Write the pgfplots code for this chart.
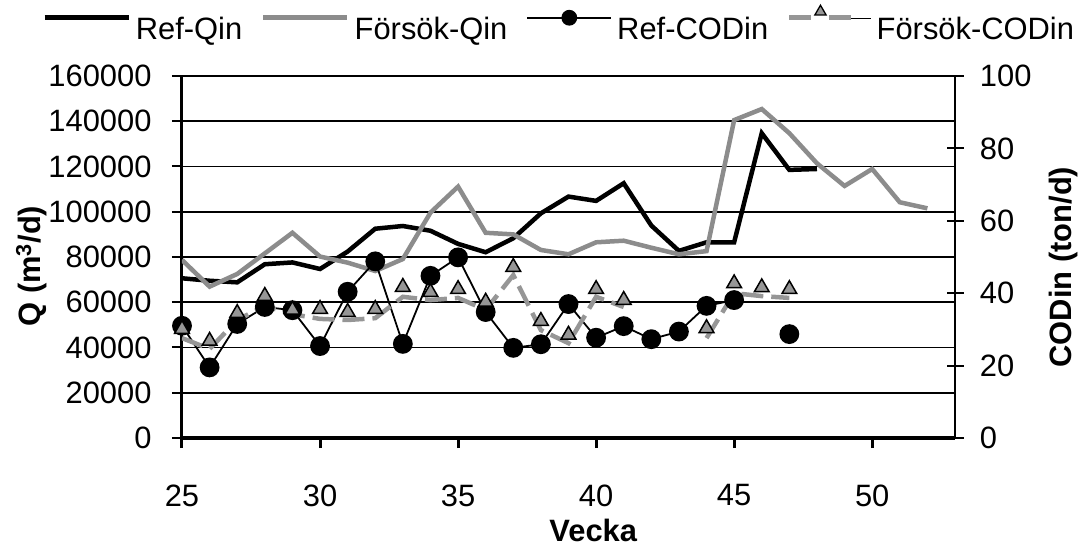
\documentclass[border=0pt]{standalone}
\usepackage{pgfplots}
\usepackage{pgfplotstable}
\pgfplotsset{compat=1.18}
\usepackage{fontspec}
\setmainfont{Liberation Sans}
\definecolor{qgray}{RGB}{140,140,140}
\definecolor{tgray}{RGB}{150,150,150}

\pgfplotstableread{
w q
25 70600
26 69500
27 68800
28 76800
29 77600
30 74700
31 82400
32 92500
33 93700
34 91600
35 85800
36 82100
37 88300
38 99300
39 106700
40 104800
41 112600
42 93900
43 82700
44 86500
45 86500
46 134700
47 118500
48 118900
}\refq

\pgfplotstableread{
w q
25 78700
26 66900
27 72500
28 81600
29 90700
30 80200
31 77500
32 73800
33 79100
34 99600
35 111100
36 90700
37 90000
38 83100
39 81200
40 86500
41 87200
42 84100
43 81200
44 82600
45 140500
46 145400
47 134700
48 121400
49 111400
50 118900
51 104200
52 101500
}\forq

\pgfplotstableread{
w c
25 31.0
26 19.5
27 31.5
28 36.2
29 35.3
30 25.4
31 40.4
32 48.8
33 26.0
34 44.8
35 49.9
36 34.8
37 24.9
38 25.9
39 37.0
40 27.7
41 30.9
42 27.3
43 29.4
44 36.5
45 38.1
46 nan
47 28.7
}\refc

\pgfplotstableread{
w c
25 27.6
26 24.6
27 32.6
28 36.5
29 34.2
30 32.9
31 32.6
32 33.1
33 39.0
34 38.1
35 38.7
36 35.4
37 45.0
38 29.8
39 26.2
40 39.0
41 36.2
42 nan
43 nan
44 27.6
45 40.0
46 39.2
47 38.7
}\forcline

\pgfplotstableread{
w c
25 30.1
26 26.8
27 34.5
28 39.2
29 35.4
30 35.6
31 34.8
32 35.6
33 41.7
34 40.3
35 41.1
36 37.6
37 47.2
38 32.3
39 28.5
40 41.1
41 38.1
44 30.3
45 42.7
46 41.6
47 41.1
}\forctri

\begin{document}
\fontsize{31}{37}\selectfont
\begin{tikzpicture}
\pgfplotsset{
  base/.style={
    scale only axis, width=773bp, height=362bp,
    xmin=25, xmax=53,
    /pgf/number format/assume math mode=true,
    tick label style={font=\fontsize{31}{37}\selectfont},
    label style={font=\fontsize{31}{37}\selectfont\bfseries},
    tick style={black},
    unbounded coords=jump,
  }
}
\path[use as bounding box] (-182bp,-110bp) rectangle (901bp,438bp);

\begin{axis}[base,
  ymin=0, ymax=160000, ytick={0,20000,...,160000},
  xtick={25,30,...,50},
  axis x line*=bottom, axis y line*=left,
  x axis line style={-, line width=4bp},
  y axis line style={-, line width=3bp},
  xtick style={line width=3bp},
  ytick style={line width=2bp},
  ymajorgrids, grid style={black, line width=1.8bp},
  tick align=outside, major tick length=10bp,
  scaled y ticks=false,
  yticklabel style={/pgf/number format/1000 sep={}, /pgf/number format/fixed, xshift=-10bp},
  xticklabel style={yshift=-26bp},
  xlabel={Vecka},
  ylabel={Q (m\textsuperscript{3}/d)},
  xlabel style={at={(axis description cs:0.532,-0.256)}, anchor=center},
  ylabel style={at={(axis description cs:-0.195,0.475)}, anchor=center},
]
\addplot[black, line width=4.5bp] table[x=w, y=q] {\refq};
\addplot[qgray, line width=4.5bp] table[x=w, y=q] {\forq};
\end{axis}

\begin{axis}[base,
  ymin=0, ymax=100, ytick={0,20,...,100},
  axis y line*=right, axis x line=none,
  y axis line style={-, line width=2bp},
  ytick style={line width=2bp},
  tick align=center, major tick length=17bp,
  yticklabel style={xshift=6bp},
  ylabel={CODin (ton/d)},
  ylabel style={at={(axis description cs:1.140,0.472)}, anchor=center},
  legend columns=4,
  legend cell align=left,
  legend style={draw=none, fill=none, inner sep=0pt, at={(-0.181,1.196)}, anchor=north west,
    font=\fontsize{31}{37}\selectfont,
    nodes={inner sep=1bp},
    cells={anchor=base west},
    /tikz/every odd column/.append style={column sep=4bp},
    /tikz/every even column/.append style={column sep=18bp}},
  legend image code/.code={\draw[mark repeat=2, mark phase=2, #1] plot coordinates {(0bp,22bp) (42bp,22bp) (84bp,22bp)};},
]
\addlegendimage{black, line width=4.5bp}
\addlegendentry{Ref-Qin}
\addlegendimage{qgray, line width=4.5bp}
\addlegendentry{Försök-Qin}
\addlegendimage{black, line width=1.8bp, mark=*, mark size=7bp}
\addlegendentry{Ref-CODin}
\addlegendimage{legend image code/.code={%
  \draw[tgray, line width=4.5bp] (0bp,22bp) -- (22bp,22bp) (40bp,22bp) -- (62bp,22bp);
  \draw[draw=none] plot[mark=triangle*, mark size=6.5bp, mark options={fill=tgray, draw=black, line width=1.3bp}] coordinates {(31bp,28bp)};
  \path (62bp,22bp) -- (82bp,22bp);}}
\addlegendentry{Försök-CODin}

\addplot[forget plot, black, line width=1.8bp, mark=*, mark size=9bp] table[x=w, y=c] {\refc};
\addplot[forget plot, tgray, line width=4.5bp, dash pattern=on 22bp off 8bp] table[x=w, y=c] {\forcline};
\addplot[forget plot, only marks, mark=triangle*, mark size=8.5bp, mark options={fill=tgray, draw=black, line width=1.5bp}] table[x=w, y=c] {\forctri};
\end{axis}
\end{tikzpicture}
\end{document}
